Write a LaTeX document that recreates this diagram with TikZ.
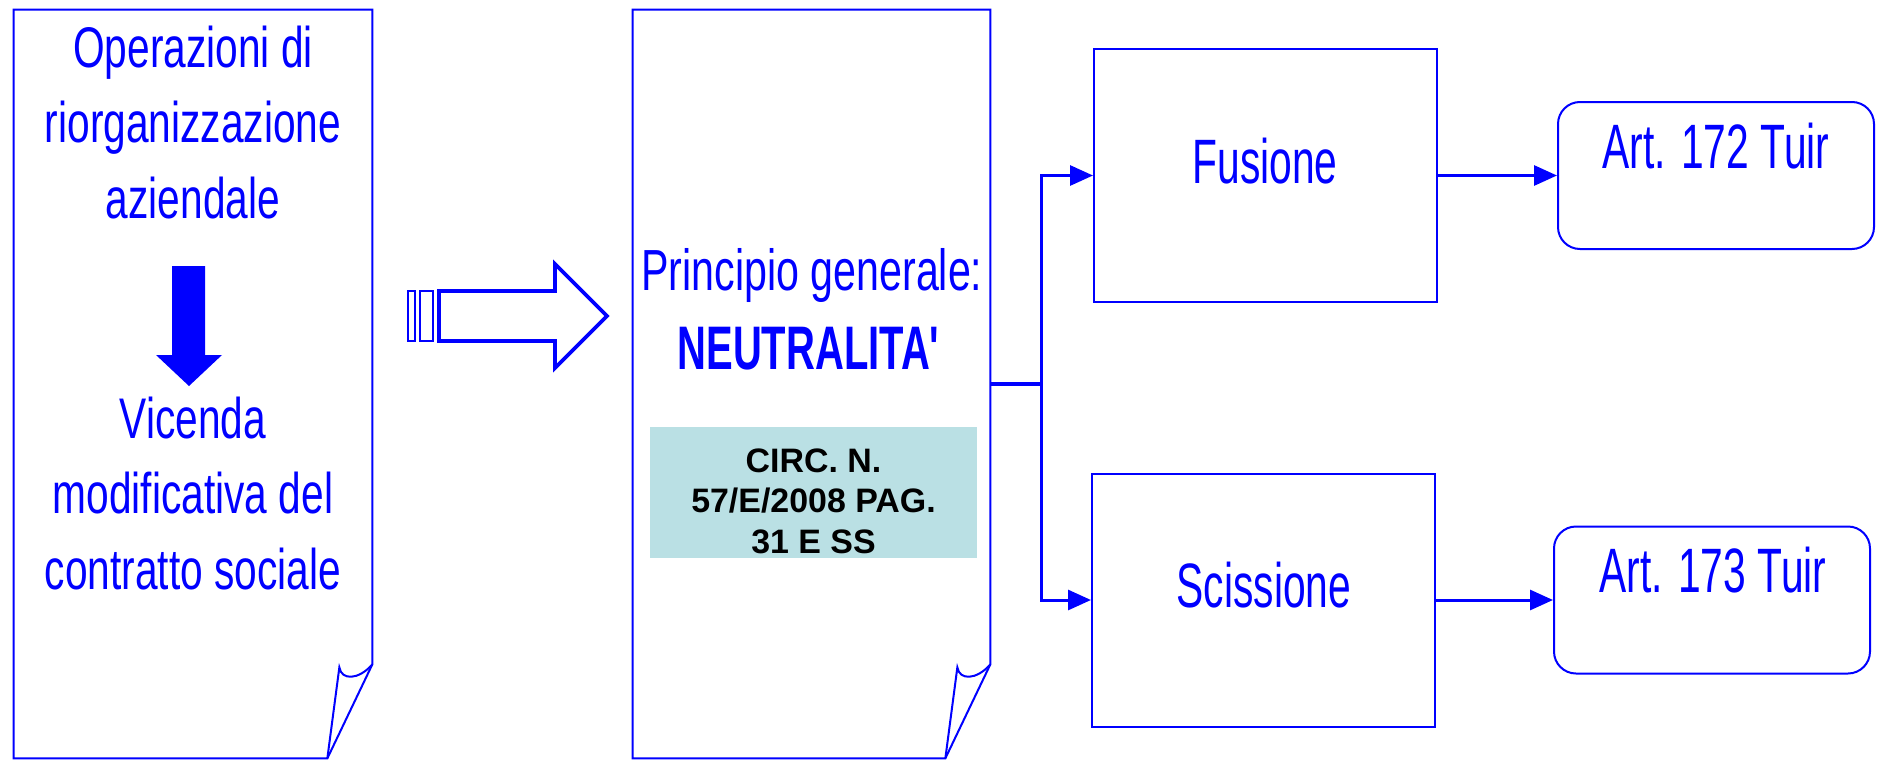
\documentclass[tikz,border=0pt]{standalone}
\usepackage{fontspec}
\setmainfont{Liberation Sans}
\newfontfamily\narrowA[FakeStretch=0.71]{Liberation Sans}
\newfontfamily\narrowB[FakeStretch=0.65,Ligatures=TeXOff]{Liberation Sans}
\usetikzlibrary{arrows.meta,positioning,calc}

\definecolor{pptblue}{RGB}{0,0,255}
\definecolor{circteal}{RGB}{186,224,228}

\tikzset{
  pageline/.style={draw=pptblue,line width=0.4mm,line join=miter},
}

% sheet with a dog-eared lower right corner
\newcommand{\foldpage}[1]{%
  \draw[pageline] (#1.north west) -- (#1.north east) -- ($(#1.south east)+(0,-94)$)
    -- ($(#1.south east)+(-45,0)$) -- (#1.south west) -- cycle;
  \draw[pageline] ($(#1.south east)+(-45,0)$) -- ($(#1.south east)+(-33,-91)$)
    .. controls ($(#1.south east)+(-31,-78)$) and ($(#1.south east)+(-14,-78)$) .. ($(#1.south east)+(0,-94)$);
}

\begin{document}
\begin{tikzpicture}[
  x=0.2mm,y=-0.2mm,
  page/.style={minimum height=149.6mm,inner sep=0},
  box/.style={draw=pptblue,line width=0.4mm,minimum width=68.6mm,minimum height=50.6mm,inner sep=0},
  artbox/.style={box,rounded corners=4.4mm,minimum width=63.2mm,minimum height=29.4mm},
  conn/.style={draw=pptblue,line width=0.6mm,-{Triangle[length=4.6mm,width=4mm]}},
  lefttxt/.style={text=pptblue,align=center,inner sep=0,font=\narrowA\fontsize{32.6}{42.7}\selectfont},
  midtxt/.style={text=pptblue,inner sep=0,font=\narrowA\fontsize{33}{45}\selectfont},
  midbold/.style={text=pptblue,inner sep=0,font=\narrowB\bfseries\fontsize{35}{45}\selectfont},
  circtxt/.style={align=center,inner sep=0,font=\bfseries\fontsize{19.3}{22.8}\selectfont},
  righttxt/.style={text=pptblue,inner sep=0,font=\narrowB\fontsize{35.7}{40}\selectfont}
]
\useasboundingbox (0,0) rectangle (1881,760);

% the two sheets
\node[page,minimum width=71.6mm] (lpage) at (193,384) {};
\node[page,minimum width=71.4mm] (mpage) at (811.5,384) {};
\foldpage{lpage}
\foldpage{mpage}

% left sheet (base = last line)
\node[lefttxt,anchor=base] (oper) at (193,218) {Operazioni di\\riorganizzazione\\aziendale};
\node[lefttxt,anchor=base] (vicenda) at (193,589) {Vicenda\\modificativa del\\contratto sociale};
\fill[pptblue] (172,266) -- (205,266) -- (205,355) -- (222,355) -- (189,386) -- (156,355) -- (172,355) -- cycle;

% striped hollow arrow
\draw[pptblue,line width=0.75mm,line join=miter] (439,291) -- (555,291) -- (555,264) -- (607,316)
  -- (555,368) -- (555,341) -- (439,341) -- cycle;
\draw[pptblue,line width=0.45mm] (408,291) rectangle (415,341) (420,291) rectangle (433,341);

% middle sheet
\node[midtxt,anchor=base] (princ) at (812,290) {Principio generale:};
\node[midbold,anchor=base] (neutr) at (808.5,369) {NEUTRALITA'};
\node[fill=circteal,minimum width=65.4mm,minimum height=26.2mm,inner sep=0] (circ) at (813.5,492.5) {};
\node[circtxt,anchor=base] (circref) at (813.5,553) {CIRC. N.\\57/E/2008 PAG.\\31 E SS};

% operations
\node[box] (fus) at (1265.5,175.5) {};
\node[righttxt,anchor=base] (fustxt) at (1265,183) {Fusione};
\node[box] (scis) at (1263.5,600) {};
\node[righttxt,anchor=base] (scistxt) at (1264,607) {Scissione};

\node[artbox] (art172) at (1716,175.5) {};
\node[righttxt,anchor=base] (art172txt) at (1716,168) {Art. 172 Tuir};
\node[artbox] (art173) at (1712,600) {};
\node[righttxt,anchor=base] (art173txt) at (1713,592) {Art. 173 Tuir};

% connectors
\coordinate (split) at (1041,384);
\draw[pptblue,line width=0.7mm] (mpage.east) -- (split);
\draw[conn] (split) |- (fus.west);
\draw[conn] (split) |- (scis.west);
\draw[conn] (fus.east) -- (art172.west);
\draw[conn] (scis.east) -- (art173.west);
\end{tikzpicture}
\end{document}
